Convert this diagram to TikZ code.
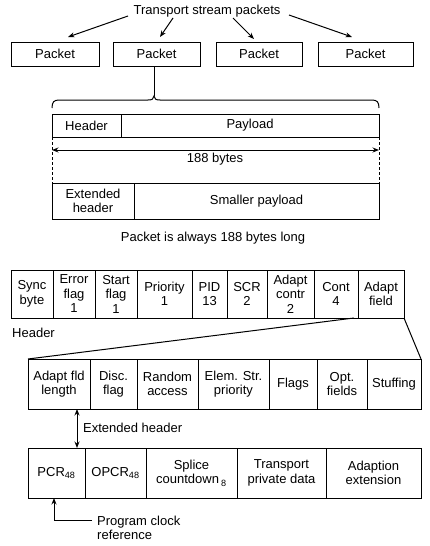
\documentclass[tikz,border=0pt]{standalone}
\usepackage{fontspec}
\setmainfont{Liberation Sans}
\usetikzlibrary{arrows.meta,calc}
\newcommand\mycell[6]{\node[cell, minimum width={(#3-#2)*1pt}, minimum height={(#5-#4)*1pt}] (#1) at (#2,#4) {#6};}
\begin{document}
\begin{tikzpicture}[x=1pt,y=-1pt,
  cell/.style={draw, line width=1pt, inner sep=0pt, outer sep=0pt, anchor=north west, align=center, font=\fontsize{13}{14.5}\selectfont},
  lbl/.style={inner sep=0pt, font=\fontsize{13}{14.5}\selectfont},
  ln/.style={line width=1pt},
  arr/.style={line width=1pt, -{Stealth[length=6.5pt,width=5pt]}},
  darr/.style={line width=1pt, {Stealth[length=6.5pt,width=5pt]}-{Stealth[length=6.5pt,width=5pt]}},
  dsh/.style={line width=0.7pt, dash pattern=on 3pt off 2pt}]
\useasboundingbox (0,0) rectangle (429,546);
% title and packets
\node[lbl] (title) at (207,11) {Transport stream packets};
\mycell{p1}{11}{99}{42}{66}{Packet}
\mycell{p2}{113}{200}{42}{66}{Packet}
\mycell{p3}{216}{302}{42}{66}{Packet}
\mycell{p4}{318}{413}{42}{66}{Packet}
\coordinate (s1) at (128,16); \coordinate (e1) at (68,37);
\coordinate (s2) at (173,18); \coordinate (e2) at (160,37);
\coordinate (s3) at (233,18); \coordinate (e3) at (254,39);
\coordinate (s4) at (289,15); \coordinate (e4) at (352,37);
\draw[arr] (s1) -- (e1);
\draw[arr] (s2) -- (e2);
\draw[arr] (s3) -- (e3);
\draw[arr] (s4) -- (e4);
% brace
\coordinate (cusp) at (154,96);
\draw[ln] (p2.south -| cusp) -- (cusp);
\draw[ln] (52,108) .. controls (52,102) and (54,100) .. (59,100) -- (148,100) .. controls (152,100) and (154,99) .. (cusp) .. controls (154,99) and (156,100) .. (160,100) -- (372,100) .. controls (377,100) and (379,102) .. (379,108);
% header / payload
\mycell{hd}{52}{121}{114}{137}{Header}
\mycell{pl}{121}{379}{114}{137}{Payload}
\mycell{eh}{52}{134}{183}{219}{Extended\\header}
\mycell{sp}{134}{379}{183}{219}{Smaller payload}
\draw[dsh] (hd.south west) -- (eh.north west);
\draw[dsh] (pl.south east) -- (sp.north east);
\coordinate (bl) at (52,150); \coordinate (br) at (379,150);
\draw[darr] (bl) -- (br);
\node[lbl] (bytes) at (215,159) {188 bytes};
\node[lbl] (always) at (213,238) {Packet is always 188 bytes long};
% header row
\mycell{h1}{11}{53}{270}{318}{Sync\\byte}
\mycell{h2}{53}{95}{270}{318}{Error\\flag\\1}
\mycell{h3}{95}{137}{270}{318}{Start\\flag\\1}
\mycell{h4}{137}{192}{270}{318}{Priority\\1}
\mycell{h5}{192}{227}{270}{318}{PID\\13}
\mycell{h6}{227}{267}{270}{318}{SCR\\2}
\mycell{h7}{267}{314}{270}{318}{Adapt\\contr\\2}
\mycell{h8}{314}{358}{270}{318}{Cont\\4}
\mycell{h9}{358}{404}{270}{318}{Adapt\\field}
\node[lbl, anchor=west] (hdrlbl) at (12,333) {Header};
% adaptation field row
\mycell{a1}{28}{90}{359}{409}{Adapt fld\\length}
\mycell{a2}{90}{137}{359}{409}{Disc.\\flag}
\mycell{a3}{137}{198}{359}{409}{Random\\access}
\mycell{a4}{198}{269}{359}{409}{Elem. Str.\\priority}
\mycell{a5}{269}{317}{359}{409}{Flags}
\mycell{a6}{317}{367}{359}{409}{Opt.\\fields}
\mycell{a7}{367}{421}{359}{409}{Stuffing}
\draw[ln] ($(h9.south west)+(-4,0)$) -- (a1.north west);
\draw[ln] (h9.south east) -- (a7.north east);
% extended header row
\mycell{c1}{28}{85}{448}{498}{PCR\textsubscript{48}}
\mycell{c2}{85}{146}{448}{498}{OPCR\textsubscript{48}}
\mycell{c3}{146}{237}{448}{498}{Splice\\countdown\,\textsubscript{8}}
\mycell{c4}{237}{326}{448}{498}{Transport\\private data}
\mycell{c5}{326}{421}{448}{498}{Adaption\\extension}
\draw[darr] ($(a1.south west)+(49,0)$) -- ($(c1.north west)+(49,0)$);
\node[lbl, anchor=west] (exthdr) at (83,428) {Extended header};
\coordinate (pcrl) at (92,520);
\draw[arr] (pcrl) -- ($(c1.south west)+(26,22)$) -- ($(c1.south west)+(26,0)$);
\node[lbl, anchor=west, align=left] (pclock) at (97,528) {Program clock\\reference};
\end{tikzpicture}
\end{document}
